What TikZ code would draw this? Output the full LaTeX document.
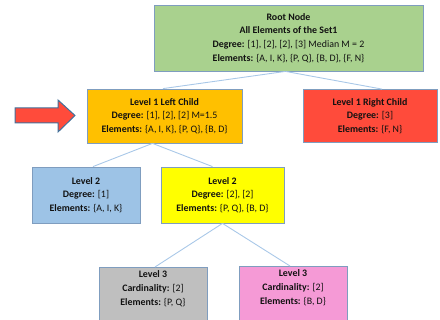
\documentclass[tikz,border=0pt]{standalone}
\usepackage{fontspec}
\setmainfont{Carlito}
\usetikzlibrary{calc,shadows}
\definecolor{rootgreen}{HTML}{A9D18E}
\definecolor{amber}{HTML}{FFC000}
\definecolor{tomato}{HTML}{FF4B3B}
\definecolor{skyblue}{HTML}{9DC3E6}
\definecolor{lemon}{HTML}{FFFF00}
\definecolor{silver}{HTML}{BFBFBF}
\definecolor{orchid}{HTML}{F59AD6}
\definecolor{edgeblue}{HTML}{7F9DBF}
\definecolor{linkblue}{HTML}{A9C8E8}
\definecolor{arrowrim}{HTML}{41719C}
\definecolor{ink}{HTML}{111111}
\tikzset{
  treebox/.style={draw=edgeblue, line width=0.8pt, rectangle, align=center,
    text=ink, font=\fontsize{9.9}{13.6}\selectfont, inner sep=0pt,
    drop shadow={shadow xshift=1pt, shadow yshift=-1pt, opacity=0.25}},
  link/.style={draw=linkblue, line width=0.9pt}
}
\begin{document}
\begin{tikzpicture}[x=1pt, y=-1pt]
\useasboundingbox (0,0) rectangle (440,320);
\begin{scope}
\clip (0,0) rectangle (440,320);
% root of the tree
\node[treebox, fill=rootgreen, minimum width=269pt, minimum height=66pt] (root) at (288.5,38)
  {\textbf{Root Node}\\\textbf{All Elements of the Set1}\\\textbf{Degree:} [1], [2], [2], [3] Median M = 2\\\textbf{Elements:} \{A, I, K\}, \{P, Q\}, \{B, D\}, \{F, N\}};
% first level
\node[treebox, fill=amber, minimum width=155pt, minimum height=54pt] (l1left) at (164.5,116)
  {\textbf{Level 1 Left Child}\\\textbf{Degree:} [1], [2], [2] M=1.5\\\textbf{Elements:} \{A, I, K\}, \{P, Q\}, \{B, D\}};
\node[treebox, fill=tomato, minimum width=134pt, minimum height=53pt] (l1right) at (370,116)
  {\textbf{Level 1 Right Child}\\\textbf{Degree:} [3]\\\textbf{Elements:} \{F, N\}};
% second level
\node[treebox, fill=skyblue, minimum width=108pt, minimum height=56pt] (l2left) at (86,195)
  {\textbf{Level 2}\\\textbf{Degree:} [1]\\\textbf{Elements:} \{A, I, K\}};
\node[treebox, fill=lemon, minimum width=123pt, minimum height=56pt] (l2right) at (222.5,195)
  {\textbf{Level 2}\\\textbf{Degree:} [2], [2]\\\textbf{Elements:} \{P, Q\}, \{B, D\}};
% third level
\node[treebox, fill=silver, minimum width=108pt, minimum height=62pt, anchor=north] (l3left) at (153,267)
  {\textbf{Level 3}\\\textbf{Cardinality:} [2]\\\textbf{Elements:} \{P, Q\}\\[7pt]};
\node[treebox, fill=orchid, minimum width=108pt, minimum height=62pt, anchor=north] (l3right) at (293,266)
  {\textbf{Level 3}\\\textbf{Cardinality:} [2]\\\textbf{Elements:} \{B, D\}\\[7pt]};
\end{scope}
% connectors
\draw[link] ($(root.south)+(-3,0)$) -- ($(l1left.north)+(-1.5,0)$);
\draw[link] ($(root.south)+(-3,0)$) -- ($(l1right.north)+(12,0)$);
\draw[link] ($(l1left.south)+(-12,0)$) -- ($(l2left.north)+(7,0)$);
\draw[link] ($(l1left.south)+(-12,0)$) -- ($(l2right.north)+(-10,0)$);
\draw[link] (l2right.south) -- ($(l3left.north)+(2,0)$);
\draw[link] (l2right.south) -- ($(l3right.north)+(-3,0)$);
% pointer arrow
\draw[fill=tomato, draw=arrowrim, line width=1pt, line join=miter]
  (15,108) -- (58,108) -- (58,100) -- (75,115.5) -- (58,132) -- (58,123) -- (15,123) -- cycle;
\end{tikzpicture}
\end{document}
